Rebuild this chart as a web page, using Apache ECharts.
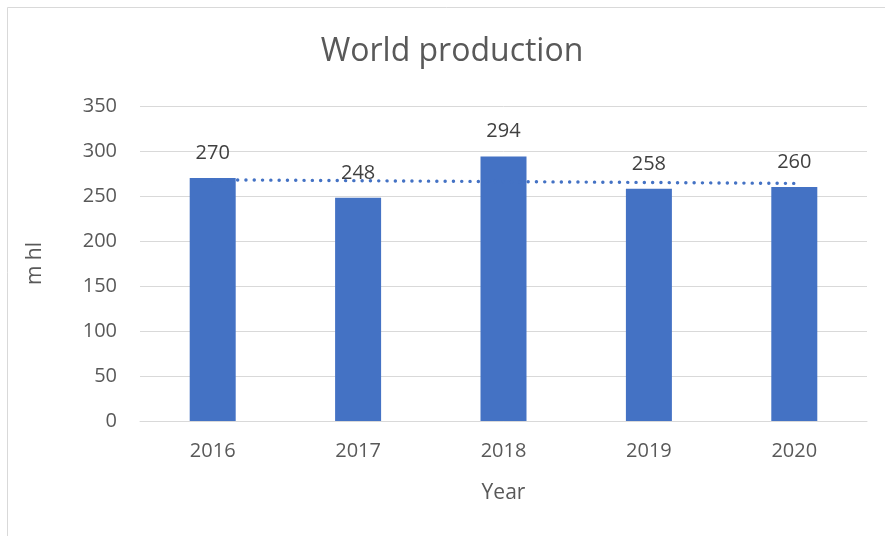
<!DOCTYPE html>
<html>
<head>
<meta charset="utf-8">
<script src="https://cdn.jsdelivr.net/npm/echarts@6/dist/echarts.min.js"></script>
<style>
  html, body { margin: 0; padding: 0; background: #fff; }
  #chart { width: 885px; height: 536px; }
</style>
</head>
<body>
<div id="chart"></div>
<script>
// World production, in millions of hectolitres
const years = ['2016', '2017', '2018', '2019', '2020'];
const production = [270, 248, 294, 258, 260];
// Linear trend across the five years
const trend = [268, 267, 266, 265, 264];
const yTicks = { min: 0, max: 350, interval: 50 };

const FONT = '"Open Sans", "Liberation Sans", sans-serif';
const TEXT = '#595959';
const BLUE = '#4472C4';
const GRID_LINE = '#d9d9d9';

const chart = echarts.init(document.getElementById('chart'), null, { renderer: 'canvas' });

chart.setOption({
  backgroundColor: '#ffffff',
  animation: false,
  textStyle: { fontFamily: FONT },
  graphic: [
    {
      type: 'rect',
      shape: { x: 7.5, y: 7.5, width: 900, height: 600 },
      style: { fill: 'none', stroke: GRID_LINE, lineWidth: 1 },
      silent: true
    },
    {
      type: 'text',
      x: 452,
      y: 52,
      style: {
        text: 'World production',
        fontFamily: FONT,
        fontSize: 32,
        fill: TEXT,
        align: 'center',
        verticalAlign: 'middle'
      }
    }
  ],
  grid: { left: 140, right: 18, top: 106, bottom: 115, containLabel: false },
  xAxis: {
    type: 'category',
    data: years,
    name: 'Year',
    nameLocation: 'middle',
    nameGap: 62,
    nameTextStyle: { color: TEXT, fontSize: 21, fontFamily: FONT },
    axisLine: { lineStyle: { color: GRID_LINE, width: 1 } },
    axisTick: { show: false },
    axisLabel: { color: TEXT, fontSize: 20, margin: 20, fontFamily: FONT }
  },
  yAxis: {
    type: 'value',
    min: yTicks.min,
    max: yTicks.max,
    interval: yTicks.interval,
    name: 'm hl',
    nameLocation: 'middle',
    nameGap: 94,
    nameRotate: 90,
    nameTextStyle: { color: TEXT, fontSize: 21, fontFamily: FONT },
    axisLine: { show: false },
    axisTick: { show: false },
    splitLine: { lineStyle: { color: GRID_LINE, width: 1 } },
    axisLabel: { color: TEXT, fontSize: 20, margin: 23, fontFamily: FONT }
  },
  series: [
    {
      name: 'Production',
      type: 'bar',
      data: production,
      barWidth: 46,
      itemStyle: { color: BLUE },
      label: {
        show: true,
        position: 'top',
        distance: 15,
        color: '#404040',
        fontSize: 20,
        fontFamily: FONT
      },
      z: 2
    },
    {
      name: 'Linear trend',
      type: 'line',
      data: trend,
      symbol: 'none',
      lineStyle: { color: BLUE, width: 3.4, type: [0.1, 8.2], cap: 'round' },
      z: 3
    }
  ]
});
</script>
</body>
</html>
